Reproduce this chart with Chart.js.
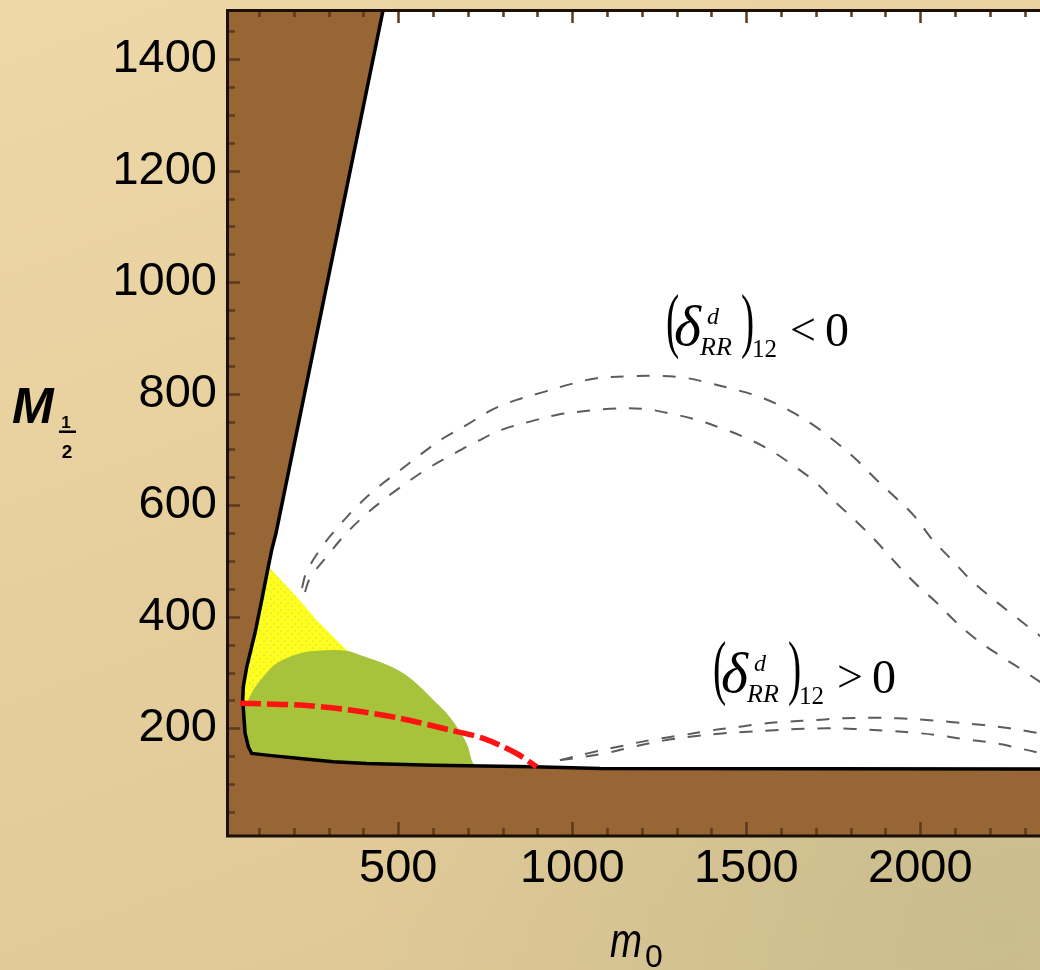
<!DOCTYPE html>
<html>
<head>
<meta charset="utf-8">
<script src="https://cdn.jsdelivr.net/npm/chart.js@4.4.1/dist/chart.umd.min.js"></script>
<style>
html,body{margin:0;padding:0;width:1040px;height:970px;overflow:hidden;}
body{
  background:
    radial-gradient(ellipse at 96% 96%, rgba(185,180,135,0.55), rgba(185,180,135,0) 45%),
    linear-gradient(160deg, #eed7a8 0%, #e7cf9d 45%, #dcc594 100%);
}
#wrap{position:relative;width:1040px;height:970px;}
</style>
</head>
<body>
<div id="wrap"><canvas id="c" width="1040" height="970"></canvas></div>
<script>
// ---------- axis ticks ----------
const xTickValues = [500, 1000, 1500, 2000];
const yTickValues = [200, 400, 600, 800, 1000, 1200, 1400];

// ---------- excluded-region boundary (white = allowed) ----------
const boundaryM0  = [467, 148.8, 136.5, 126.7, 107.8, 88.5, 64.7, 54.9, 53.2, 59.8, 69.3, 79, 122, 217.8, 313.4, 409.4, 600.7, 888, 1080, 2400];
const boundaryM12 = [1520, 550, 520, 490, 430, 371, 310, 275, 251, 192, 167, 155, 152, 146, 140, 137, 134, 131, 128, 127];

// ---------- yellow region ----------
const yellowM0  = [126.7, 131.6, 208, 265.8, 323, 352, 385, 300, 60, 54.9, 64.7, 88.5, 107.8];
const yellowM12 = [490, 487, 436, 394, 358, 340, 320, 250, 240, 275, 310, 371, 430];

// ---------- green region ----------
const greenM0  = [69.3, 83.6, 112.4, 150.8, 217.8, 265.8, 352, 390, 457, 514.5, 562.5, 600.7, 639, 668, 696.7, 711, 716, 600.7, 409.4, 313.4, 217.8, 122, 79, 69.3, 59.8, 54];
const greenM12 = [250.8, 268.7, 292.6, 316.6, 334.5, 339.2, 339.2, 331.5, 316.6, 298.7, 274.6, 250.8, 226.9, 202.9, 173, 143, 132, 133, 136, 139, 145, 151, 154, 166, 191, 240];

// ---------- red dashed line ----------
const redM0  = [45.4, 217.8, 361.4, 505, 648.7, 744.4, 840.3, 897.8];
const redM12 = [244.8, 241.8, 232.8, 218, 197, 182, 155, 131];

// ---------- (delta)_12 < 0 contours ----------
const negOuterM0  = [223.5, 237, 284.7, 327.8, 380.7, 438.1, 500.2, 562.5, 629.4, 696.7, 768.5, 840.3, 921.6, 998.3, 1070.1, 1156.3, 1232.7, 1318.9, 1395.6, 1472.3, 1548.7, 1620.5, 1687.7, 1749.8, 1812.1, 1869.6, 1927, 1984.5, 2033.3, 2088, 2145.4, 2205.7, 2263.1, 2326.3, 2372];
const negOuterM12 = [451.7, 480.9, 528.8, 561.6, 597.5, 630.5, 660.3, 690.2, 720.2, 744, 771, 788.9, 803.8, 817.6, 827.8, 831, 832, 829, 818.8, 806.8, 791.9, 771, 745.8, 717.1, 684.3, 648.4, 614.9, 579.5, 539.5, 503.7, 466, 433.7, 405, 374.5, 353];
const negInnerM0  = [232.1, 246.5, 294.5, 342.2, 399.6, 457.1, 519.4, 586.4, 653.6, 725.4, 797.2, 878.5, 955.2, 1031.6, 1108.3, 1204, 1275.8, 1347.6, 1429.2, 1501, 1568, 1639.8, 1702.1, 1759.6, 1817, 1874.5, 1927, 1984.5, 2042, 2099.4, 2159.7, 2225.8, 2289, 2340.7, 2372];
const negInnerM12 = [444.5, 469.1, 507.8, 543.7, 579.5, 609.5, 638.2, 666.4, 690.2, 714.1, 735.1, 750, 762, 768.5, 773, 773, 765, 755, 738.1, 720.2, 699.2, 669.2, 639.5, 603.6, 570.6, 534.7, 498.3, 460.6, 428.3, 392.5, 360.2, 331.5, 306.4, 284.8, 272];

// ---------- (delta)_12 > 0 contours ----------
const posUpperM0  = [964.7, 1050.9, 1146.5, 1232.7, 1318.9, 1395.6, 1481.8, 1539.2, 1615.9, 1702.1, 1778.5, 1860.1, 1936.5, 2018.1, 2094.5, 2180.7, 2257.4, 2324.4, 2372];
const posUpperM12 = [143, 156, 169, 180, 188, 196, 203, 208, 212, 215, 218, 219, 218, 215, 211, 206, 200, 193, 188];
const posLowerM0  = [964.7, 1002.9, 1098.8, 1175.3, 1261.4, 1338.1, 1414.8, 1491.3, 1568, 1644.7, 1730.8, 1807.3, 1893.4, 1970.1, 2046.8, 2123.3, 2209.4, 2286.1, 2343.6, 2372];
const posLowerM12 = [143, 146, 156, 167, 178, 185, 190, 193.5, 196, 199, 200, 199, 196, 192.8, 188, 181, 174, 164, 156, 152];

// ---------- annotation anchors (data coords) ----------
const deltaLabels = [
  { m0: 1304, m12: 888, sign: '<' },
  { m0: 1439, m12: 265, sign: '>' }
];

// ---------- layout / style constants ----------
const X_MIN = 8, X_MAX = 2344, Y_MIN = 7, Y_MAX = 1488;
const BROWN = '#986535';
const SANS = '"Liberation Sans", Arial, sans-serif';
const SERIF = '"Liberation Serif", "DejaVu Serif", serif';

function pts(xs, ys) { return xs.map((x, i) => ({ x: x, y: ys[i] })); }

const canvas = document.getElementById('c');
const mainCtx = canvas.getContext('2d');

function yellowPattern() {
  const c = document.createElement('canvas');
  c.width = 7; c.height = 7;
  const g = c.getContext('2d');
  g.fillStyle = '#ffff1c'; g.fillRect(0, 0, 7, 7);
  g.fillStyle = '#ecec3a'; g.fillRect(0, 0, 2, 2); g.fillRect(4, 3, 2, 2);
  return mainCtx.createPattern(c, 'repeat');
}

const whitePts = pts(boundaryM0, boundaryM12);
whitePts.push({ x: boundaryM0[boundaryM0.length - 1], y: boundaryM12[0] });

function drawDelta(ctx, x0, b, sign) {
  ctx.save();
  ctx.fillStyle = '#000';
  ctx.textAlign = 'left';
  ctx.textBaseline = 'alphabetic';
  const paren = (ch, x) => {
    ctx.save();
    ctx.font = '72px ' + SERIF;
    ctx.translate(x, b - 1);
    ctx.scale(0.55, 1);
    ctx.fillText(ch, 0, 0);
    ctx.restore();
  };
  paren('(', x0 - 12);
  ctx.font = 'italic 58px ' + SERIF; ctx.fillText('δ', x0 - 4, b);
  ctx.font = 'italic 24px ' + SERIF; ctx.fillText('d', x0 + 29, b - 21);
  ctx.font = 'italic 26px ' + SERIF; ctx.fillText('RR', x0 + 22, b + 10);
  paren(')', x0 + 63);
  ctx.font = '25px ' + SERIF; ctx.fillText('12', x0 + 74, b + 12);
  ctx.font = '46px ' + SERIF; ctx.fillText(sign, x0 + 112, b);
  ctx.font = '48px ' + SERIF; ctx.fillText('0', x0 + 147, b + 1);
  ctx.restore();
}

const decor = {
  id: 'decor',
  beforeDatasetsDraw(chart) {
    const { ctx, chartArea: a } = chart;
    ctx.save();
    ctx.fillStyle = BROWN;
    ctx.fillRect(a.left, a.top, a.right - a.left, a.bottom - a.top);
    ctx.restore();
  },
  afterDatasetsDraw(chart) {
    const { ctx, chartArea: a } = chart;
    const xs = chart.scales.x, ys = chart.scales.y;
    deltaLabels.forEach(l => drawDelta(ctx, xs.getPixelForValue(l.m0), ys.getPixelForValue(l.m12), l.sign));
    ctx.save();
    ctx.strokeStyle = '#5a3a1b';
    ctx.lineWidth = 2.5;
    ctx.beginPath();
    for (let v = 100; v <= X_MAX; v += 100) {
      const p = Math.round(xs.getPixelForValue(v)) + 0.5;
      const len = (v % 500 === 0) ? 14 : 8;
      ctx.moveTo(p, a.bottom); ctx.lineTo(p, a.bottom - len);
      ctx.moveTo(p, a.top); ctx.lineTo(p, a.top + len - 1);
    }
    for (let v = 50; v <= Y_MAX; v += 50) {
      const p = Math.round(ys.getPixelForValue(v)) + 0.5;
      const len = (v % 200 === 0) ? 13 : 8;
      ctx.moveTo(a.left, p); ctx.lineTo(a.left + len, p);
    }
    ctx.stroke();
    ctx.restore();
    ctx.save();
    ctx.strokeStyle = '#1a1008';
    ctx.lineWidth = 3;
    ctx.beginPath();
    ctx.moveTo(a.right + 2, a.top + 0.5);
    ctx.lineTo(a.left + 0.5, a.top + 0.5);
    ctx.lineTo(a.left + 0.5, a.bottom);
    ctx.lineTo(a.right + 2, a.bottom);
    ctx.stroke();
    ctx.restore();
  },
  afterDraw(chart) {
    const { ctx } = chart;
    ctx.save();
    ctx.fillStyle = '#000';
    ctx.textBaseline = 'alphabetic';
    ctx.font = 'italic bold 50px ' + SANS;
    ctx.textAlign = 'left';
    ctx.fillText('M', 12, 423);
    ctx.textAlign = 'center';
    ctx.font = 'bold 17px ' + SANS;
    ctx.fillText('1', 66, 428);
    ctx.fillRect(59, 430.5, 17, 2.5);
    ctx.font = 'bold 19px ' + SANS;
    ctx.fillText('2', 67, 458);
    ctx.textAlign = 'left';
    ctx.save();
    ctx.font = 'italic 48px ' + SANS;
    ctx.translate(610, 957);
    ctx.scale(0.8, 1);
    ctx.fillText('m', 0, 0);
    ctx.restore();
    ctx.font = '32px ' + SANS;
    ctx.fillText('0', 645, 967);
    ctx.restore();
  }
};

const lineBase = { pointRadius: 0, pointHoverRadius: 0, clip: 0, showLine: true };
const fmt = v => String(v);

new Chart(canvas, {
  type: 'line',
  data: {
    datasets: [
      Object.assign({}, lineBase, { label: 'allowed', data: whitePts, fill: 'shape', backgroundColor: '#ffffff', borderWidth: 0, borderColor: 'rgba(0,0,0,0)', order: 6 }),
      Object.assign({}, lineBase, { label: 'yellow', data: pts(yellowM0, yellowM12), fill: 'shape', backgroundColor: yellowPattern(), borderWidth: 0, borderColor: 'rgba(0,0,0,0)', order: 5 }),
      Object.assign({}, lineBase, { label: 'green', data: pts(greenM0, greenM12), fill: 'shape', backgroundColor: '#a7c23b', borderWidth: 0, borderColor: 'rgba(0,0,0,0)', tension: 0.35, order: 4 }),
      Object.assign({}, lineBase, { label: 'boundary', data: pts(boundaryM0, boundaryM12), fill: false, borderColor: '#000000', borderWidth: 3.5, order: 3 }),
      Object.assign({}, lineBase, { label: 'red', data: pts(redM0, redM12), fill: false, borderColor: '#ff1212', borderWidth: 5.5, borderDash: [21, 6], tension: 0.3, order: 2 }),
      Object.assign({}, lineBase, { label: 'neg outer', data: pts(negOuterM0, negOuterM12), fill: false, borderColor: '#5c5c5c', borderWidth: 2, borderDash: [13, 13], tension: 0.4, order: 1 }),
      Object.assign({}, lineBase, { label: 'neg inner', data: pts(negInnerM0, negInnerM12), fill: false, borderColor: '#5c5c5c', borderWidth: 2, borderDash: [13, 13], tension: 0.4, order: 1 }),
      Object.assign({}, lineBase, { label: 'pos upper', data: pts(posUpperM0, posUpperM12), fill: false, borderColor: '#5c5c5c', borderWidth: 2, borderDash: [13, 13], tension: 0.4, order: 1 }),
      Object.assign({}, lineBase, { label: 'pos lower', data: pts(posLowerM0, posLowerM12), fill: false, borderColor: '#5c5c5c', borderWidth: 2, borderDash: [13, 13], tension: 0.4, order: 1 })
    ]
  },
  options: {
    responsive: false,
    animation: false,
    devicePixelRatio: 1,
    events: [],
    layout: { padding: { top: 10, left: 0, right: 0, bottom: 0 } },
    elements: { line: { capBezierPoints: false, tension: 0 } },
    plugins: { legend: { display: false }, tooltip: { enabled: false }, title: { display: false } },
    scales: {
      x: {
        type: 'linear', min: X_MIN, max: X_MAX,
        grid: { display: false, drawTicks: false },
        border: { display: false },
        afterBuildTicks: s => { s.ticks = xTickValues.map(v => ({ value: v })); },
        afterFit: s => { s.height = 134; s.paddingLeft = 0; s.paddingRight = 0; },
        ticks: { font: { family: SANS, size: 47 }, color: '#000', padding: 5, maxRotation: 0, autoSkip: false, callback: fmt }
      },
      y: {
        type: 'linear', min: Y_MIN, max: Y_MAX,
        grid: { display: false, drawTicks: false },
        border: { display: false },
        afterBuildTicks: s => { s.ticks = yTickValues.map(v => ({ value: v })); },
        afterFit: s => { s.width = 227; s.paddingTop = 0; s.paddingBottom = 0; },
        ticks: { font: { family: SANS, size: 47 }, color: '#000', padding: 10, autoSkip: false, callback: fmt }
      }
    }
  },
  plugins: [decor]
});
</script>
</body>
</html>
